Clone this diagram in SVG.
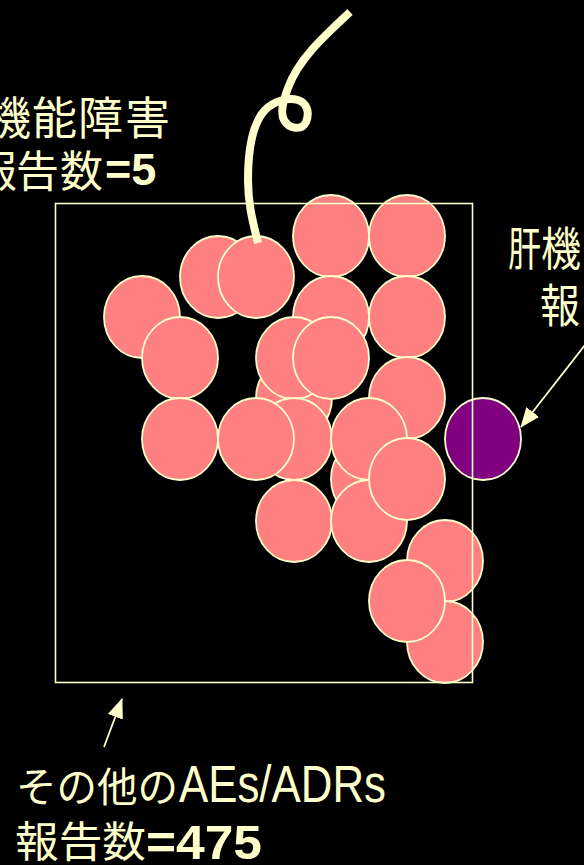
<svg xmlns="http://www.w3.org/2000/svg" width="584" height="865" viewBox="0 0 584 865">
  <defs>
    <style>
      .ae { fill: #FF8080; stroke: #FFFFCC; stroke-width: 1.8; }
      .liver { fill: #800080; stroke: #FFFFCC; stroke-width: 1.8; }
      .frame { fill: none; stroke: #FFFFCC; stroke-width: 1.6; }
      .thread { fill: none; stroke: #FFFFCC; stroke-width: 8; stroke-linecap: butt; stroke-linejoin: round; }
      .pointer { fill: none; stroke: #FFFFCC; stroke-width: 1.8; }
      .cjk { fill: #FFFFCC; font-family: "Noto Sans CJK JP", "Noto Sans CJK SC", sans-serif; }
      .lat { fill: #FFFFCC; font-family: "Liberation Sans", Arial, sans-serif; }
      .bold { font-weight: bold; }
    </style>
    <marker id="head" viewBox="0 0 20 16" refX="19" refY="8" markerWidth="20" markerHeight="16" markerUnits="userSpaceOnUse" orient="auto">
      <path d="M0,0 L20,8 L0,16 Z" fill="#FFFFCC"/>
    </marker>
  </defs>

  <rect x="0" y="0" width="584" height="865" fill="#000000"/>

  <!-- individual AE/ADR reports, drawn back to front -->
  <g id="reports">
    <ellipse class="ae" cx="218" cy="277" rx="38" ry="41"/>
    <ellipse class="ae" cx="256" cy="277" rx="38" ry="41"/>
    <ellipse class="ae" cx="331" cy="236" rx="38" ry="41"/>
    <ellipse class="ae" cx="407" cy="236" rx="38" ry="41"/>
    <ellipse class="ae" cx="331" cy="317" rx="38" ry="41"/>
    <ellipse class="ae" cx="407" cy="317" rx="38" ry="41"/>
    <ellipse class="ae" cx="142" cy="317" rx="38" ry="41"/>
    <ellipse class="ae" cx="180" cy="358" rx="38" ry="41"/>
    <ellipse class="ae" cx="294" cy="398" rx="38" ry="41"/>
    <ellipse class="ae" cx="294" cy="358" rx="38" ry="41"/>
    <ellipse class="ae" cx="331" cy="358" rx="38" ry="41"/>
    <ellipse class="ae" cx="180" cy="439" rx="38" ry="41"/>
    <ellipse class="ae" cx="294" cy="439" rx="38" ry="41"/>
    <ellipse class="ae" cx="256" cy="439" rx="38" ry="41"/>
    <ellipse class="ae" cx="407" cy="398" rx="38" ry="41"/>
    <ellipse class="ae" cx="369" cy="479" rx="38" ry="41"/>
    <ellipse class="ae" cx="369" cy="439" rx="38" ry="41"/>
    <ellipse class="ae" cx="294" cy="521" rx="38" ry="41"/>
    <ellipse class="ae" cx="369" cy="521" rx="38" ry="41"/>
    <ellipse class="ae" cx="407" cy="479" rx="38" ry="41"/>
    <ellipse class="ae" cx="445" cy="561" rx="38" ry="41"/>
    <ellipse class="ae" cx="445" cy="642" rx="38" ry="41"/>
    <ellipse class="ae" cx="407" cy="601" rx="38" ry="41"/>
  </g>

  <!-- liver function disorder report -->
  <g id="liver-report">
    <ellipse class="liver" cx="483" cy="439" rx="38" ry="41"/>
  </g>

  <!-- outline enclosing all reports -->
  <g id="report-frame">
    <rect class="frame" x="55.5" y="203.5" width="417" height="479"/>
  </g>

  <!-- thread attached to the kidney report -->
  <g id="thread">
    <path class="thread" d="M350,12 C323,37 298,60 288,88 C283,101 280,113 284,120 C289,129 302,131 306,122 C310,112 307,103 298,100 C288,97 274,101 265,110 C252,124 248,150 248,180 C248,206 254,226 258,243"/>
  </g>

  <g id="connectors">
    <line class="pointer" x1="585" y1="345" x2="521" y2="427" marker-end="url(#head)"/>
    <line class="pointer" x1="104" y1="747" x2="122" y2="699" marker-end="url(#head)"/>
  </g>

  <!-- labels -->
  <g id="label-kidney">
    <text class="cjk" font-size="45" x="-14 32 78 125" y="135">機能障害</text>
    <text class="cjk" font-size="43" x="-26 16 60" y="187">報告数</text>
    <text class="lat bold" font-size="45" x="105" y="185">=5</text>
  </g>

  <g id="label-liver">
    <text class="cjk" font-size="46" x="508" y="265" textLength="33" lengthAdjust="spacingAndGlyphs">肝</text>
    <text class="cjk" font-size="46" x="541" y="265" textLength="40" lengthAdjust="spacingAndGlyphs">機</text>
    <text class="cjk" font-size="46" x="540" y="322" textLength="40" lengthAdjust="spacingAndGlyphs">報</text>
  </g>

  <g id="label-other">
    <text class="cjk" font-size="41" x="16" y="802" textLength="162" lengthAdjust="spacingAndGlyphs">その他の</text>
    <text class="lat" font-size="51" x="179" y="802" textLength="207" lengthAdjust="spacingAndGlyphs">AEs/ADRs</text>
    <text class="cjk" font-size="42" x="15" y="857" textLength="131" lengthAdjust="spacingAndGlyphs">報告数</text>
    <text class="lat bold" font-size="49" x="146" y="859" textLength="116" lengthAdjust="spacingAndGlyphs">=475</text>
  </g>
</svg>
